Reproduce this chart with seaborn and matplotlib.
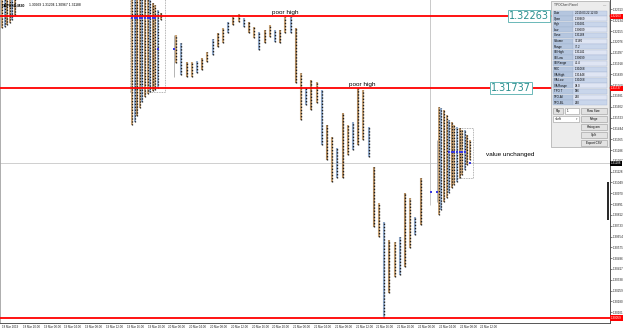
import numpy as np
import pandas as pd
import matplotlib
matplotlib.use("Agg")
import matplotlib.pyplot as plt
import seaborn as sns
from matplotlib.patches import Rectangle
from matplotlib.transforms import blended_transform_factory

sns.set_style("white")
plt.rcParams['font.family'] = ['Liberation Sans', 'DejaVu Sans']

# ---------------- data (time in hours since 18 Mar 16:00, prices) ----------------
# previous-day profile (cut at left)
prev_t = [0.0, 0.5, 1.0, 1.5, 2.0, 2.5]
prev_hi = [1.3240, 1.3240, 1.3240, 1.3240, 1.3240, 1.3240]
prev_lo = [1.32177, 1.32185, 1.32199, 1.32214, 1.32236, 1.32272]

# composite profile (20 Mar)
prof1_t = [25.0, 25.5, 26.0, 26.5, 27.0, 27.5, 28.0, 28.5, 29.0, 29.5, 30.0, 30.5]
prof1_hi = [1.3240, 1.3240, 1.3240, 1.3240, 1.3240, 1.3240, 1.3240, 1.3240,
            1.32360, 1.32345, 1.32309, 1.32287]
prof1_lo = [1.31469, 1.31491, 1.31535, 1.31593, 1.31637, 1.31673, 1.31695, 1.31710,
            1.31717, 1.31724, 1.31739, 1.32236]

# hourly TPO columns
bar_t = [33.5 + k for k in range(48)]
bar_hi = [1.32126, 1.32068, 1.31929, 1.31929, 1.31936, 1.31958, 1.32002, 1.32097,
          1.32141, 1.32177, 1.32221, 1.32258, 1.32280, 1.32250, 1.32221, 1.32185,
          1.32148, 1.32163, 1.32199, 1.32163, 1.32163, 1.32258, 1.32258, 1.32177,
          1.31849, 1.31739, 1.31798, 1.31783, 1.31724, 1.31469, 1.31381, 1.31301,
          1.31556, 1.31469, 1.31491, 1.31739, 1.31724, 1.31454, 1.31162, 1.30899,
          1.30760, 1.30629, 1.30614, 1.30650, 1.30972, 1.30935, 1.30797, 1.31082]
bar_lo = [1.31922, 1.31834, 1.31819, 1.31819, 1.31849, 1.31871, 1.31929, 1.31980,
          1.32039, 1.32068, 1.32141, 1.32199, 1.32221, 1.32185, 1.32141, 1.32104,
          1.32017, 1.32068, 1.32112, 1.32075, 1.32068, 1.32141, 1.32141, 1.31776,
          1.31505, 1.31615, 1.31578, 1.31629, 1.31323, 1.31213, 1.31052, 1.31082,
          1.31082, 1.31250, 1.31286, 1.31323, 1.31359, 1.31235, 1.30724, 1.30650,
          1.30059, 1.30241, 1.30358, 1.30373, 1.30431, 1.30570, 1.30665, 1.30738]

# current-day profile (22 Mar)
prof2_t = [84.0 + 0.5 * i for i in range(13)]
prof2_hi = [1.31600, 1.31593, 1.31578, 1.31542, 1.31505, 1.31491, 1.31469, 1.31454,
            1.31447, 1.31432, 1.31432, 1.31396, 1.31359]
prof2_lo = [1.30811, 1.30848, 1.30906, 1.30935, 1.30972, 1.31008, 1.31030, 1.31052,
            1.31082, 1.31103, 1.31140, 1.31177, 1.31213]

# single thin (gray) prints
thin_t = [33.1, 83.65]
thin_hi = [1.32126, 1.31359]
thin_lo = [1.31819, 1.30906]

# open markers (blue)
open_t = [25.0, 25.5, 26.0, 26.5, 27.0, 27.5, 28.0, 28.5, 29.0, 29.5, 30.0, 33.1,
          82.5, 83.65, 86.0, 86.5, 87.0, 87.5, 88.0, 88.5, 89.0, 90.0]
open_p = [1.32254, 1.32254, 1.32254, 1.32254, 1.32254, 1.32254, 1.32254, 1.32254,
          1.32254, 1.32254, 1.32024, 1.32024, 1.30979, 1.30979, 1.31272, 1.31272,
          1.31272, 1.31272, 1.31272, 1.31272, 1.31272, 1.31191]

levels = [1.32263, 1.31737]
level_labels = ["1.32263", "1.31737"]
low_level = 1.30059
close_price = 1.31188

va1 = (24.6, 31.35, 1.31710, 1.3245)
va2 = (85.6, 90.6, 1.31082, 1.31447)

annot_text = ["poor high", "poor high", "value unchanged"]
annot_t = [54.4, 69.2, 97.7]
annot_p = [1.32294, 1.31768, 1.31250]

xtick_labels = ["18 Mar 2019", "18 Mar 20:00", "19 Mar 00:00", "19 Mar 04:00", "19 Mar 08:00",
                "19 Mar 12:00", "19 Mar 16:00", "19 Mar 20:00", "20 Mar 00:00", "20 Mar 04:00",
                "20 Mar 08:00", "20 Mar 12:00", "20 Mar 16:00", "20 Mar 20:00", "21 Mar 00:00",
                "21 Mar 04:00", "21 Mar 08:00", "21 Mar 12:00", "21 Mar 16:00", "21 Mar 20:00",
                "22 Mar 00:00", "22 Mar 04:00", "22 Mar 08:00", "22 Mar 12:00"]

panel_keys = ["Date", "Open", "High", "Low", "Close", "Volume", "Range", "IB High", "IB Low",
              "IB Range", "POC", "VA High", "VA Low", "VA Range", "TPO T", "TPO-Al", "TPO-BL"]
panel_vals = ["2019.03.22 12:00", "1.30969", "1.31681", "1.30609", "1.31188", "72160", "77.2",
              "1.31141", "1.30699", "45.4", "1.31068", "1.31448", "1.31068", "38.0", "586",
              "240", "240"]

# ---------------- figure ----------------
W, H = 625, 331
fig = plt.figure(figsize=(W / 100, H / 100), dpi=100)
fig.patch.set_facecolor("white")
ax = fig.add_axes([0, 8 / H, 610 / W, 323 / H])
ax.set_facecolor("white")

ax.set_xlim(-0.385, 116.92)
ax.set_ylim(1.30022, 1.32382)

# reference lines
ax.axhline(close_price, color="#c8c8c8", lw=0.6, zorder=1)
ax.vlines([82.3], 1.30884, 1.3240, color="#c0c0c0", lw=0.6, zorder=1)

palette = ["#c9a478", "#93abcb", "#b58f64"]


def draw_cols(t, lo, hi, lw=1.5):
    cols = [palette[i % len(palette)] for i in range(len(t))]
    ax.vlines(t, lo, hi, colors=cols, linewidth=lw, zorder=3)
    ax.vlines(t, lo, hi, colors="#1c1c1c", linewidth=lw * 0.65,
              linestyles=(0, (1, 1.3)), zorder=4)


draw_cols(prev_t, prev_lo, prev_hi, lw=1.4)
draw_cols(prof1_t, prof1_lo, prof1_hi, lw=1.4)
draw_cols(bar_t, bar_lo, bar_hi, lw=1.5)
draw_cols(prof2_t, prof2_lo, prof2_hi, lw=1.4)
ax.vlines(thin_t, thin_lo, thin_hi, colors="#a8a8a8", linewidth=0.6, zorder=3)

opens = pd.DataFrame({"t": open_t, "p": open_p})
sns.scatterplot(data=opens, x="t", y="p", ax=ax, color="#3a3ae0", marker="s", s=2.5,
                linewidth=0, zorder=5)

# value-area boxes
for (x0, x1, y0, y1) in [va1, va2]:
    ax.add_patch(Rectangle((x0, y0), x1 - x0, y1 - y0, fill=False, edgecolor="#9a9a9a",
                           lw=0.6, linestyle=(0, (1, 1)), zorder=2))

# red levels
for lv in levels + [low_level]:
    ax.axhline(lv, color="#ff0000", lw=1.3, zorder=6)

# level tags
tag_t = [101.4, 97.9]
for lv, lab, tt in zip(levels, level_labels, tag_t):
    ax.text(tt, lv, lab, fontsize=7, color="#2b8f8f", ha="center", va="center", zorder=7,
            family="DejaVu Sans",
            bbox=dict(boxstyle="square,pad=0.12", fc="white", ec="#6ab8b8", lw=0.7))

for s, tt, pp in zip(annot_text, annot_t, annot_p):
    ax.text(tt, pp, s, fontsize=4.6, color="black", ha="center", va="center", zorder=7)

# axes styling
ax.spines["top"].set_visible(False)
ax.spines["left"].set_color("#a0a0a0")
ax.spines["left"].set_linewidth(0.6)
ax.spines["right"].set_color("#555555")
ax.spines["bottom"].set_color("#555555")
ax.spines["right"].set_linewidth(0.7)
ax.spines["bottom"].set_linewidth(0.7)

ax.yaxis.tick_right()
ax.set_yticks(np.round(np.arange(1.30101, 1.3238, 0.00079), 5))
ax.yaxis.set_major_formatter(matplotlib.ticker.FormatStrFormatter("%.5f"))
ax.tick_params(axis="y", labelsize=2.2, length=1.2, width=0.4, pad=0.8, colors="#222222")
ax.set_xticks([4 * k for k in range(len(xtick_labels))])
ax.set_xticklabels(xtick_labels, ha="left")
ax.tick_params(axis="x", labelsize=2.05, length=1.2, width=0.4, pad=0.5, colors="#222222")
ax.set_xlabel("")
ax.set_ylabel("")

# right-axis price tags
bt = blended_transform_factory(ax.transAxes, ax.transData)
for lv, lab in zip(levels + [low_level], level_labels + ["1.30059"]):
    ax.text(1.002, lv, lab, transform=bt, fontsize=2.2, color="white", ha="left", va="center",
            zorder=8, clip_on=False,
            bbox=dict(boxstyle="square,pad=0.25", fc="#ff0000", ec="none"))
ax.text(1.002, close_price, "1.31188", transform=bt, fontsize=2.2, color="white", ha="left",
        va="center", zorder=8, clip_on=False,
        bbox=dict(boxstyle="square,pad=0.25", fc="black", ec="none"))
ax.vlines([116.6], 1.30775, 1.31052, color="black", lw=1.2, zorder=6)


# ---------------- figure-level overlay (title + panel) ----------------
def frect(x0, y0, x1, y1, fc, ec="none", lw=0.4, z=10):
    fig.add_artist(Rectangle((x0 / W, 1 - y1 / H), (x1 - x0) / W, (y1 - y0) / H,
                             transform=fig.transFigure, facecolor=fc, edgecolor=ec,
                             linewidth=lw, zorder=z))


def ftext(x, y, s, size=2.5, ha="left", color="black", z=11, **kw):
    fig.text(x / W, 1 - y / H, s, fontsize=size, ha=ha, va="center", color=color,
             zorder=z, **kw)


ftext(2, 5, "GBPUSD,M30", size=2.6, weight="bold")
ftext(29, 5, "1.30969 1.31204 1.30967 1.31188", size=2.4)

frect(551, 1, 609, 147, "#ececec", ec="#a8a8a8", lw=0.5)
ftext(553.5, 5.5, "TPOChart Panel", size=2.3, color="#333333")
ftext(604.5, 5.0, "\u2014", size=2.3, ha="center", color="#777777")
row_h = 5.6
for i, (k, v) in enumerate(zip(panel_keys, panel_vals)):
    y0 = 10.5 + i * row_h
    frect(552.5, y0, 572.5, y0 + row_h - 0.6, "#b5c6df", ec="#9fb3d0", lw=0.3)
    vfc = "#dfe5f3" if i % 2 else "#c9d6eb"
    frect(573.0, y0, 606.5, y0 + row_h - 0.6, vfc, ec="#a8b8d4", lw=0.3)
    ftext(553.5, y0 + row_h / 2 - 0.3, k, size=2.1)
    ftext(575.0, y0 + row_h / 2 - 0.3, v, size=2.1)


def button(x0, y0, x1, y1, s, fc="#e2e2e2", ha="center"):
    frect(x0, y0, x1, y1, fc, ec="#9a9a9a", lw=0.4)
    if ha == "center":
        ftext((x0 + x1) / 2, (y0 + y1) / 2, s, size=2.2, ha="center")
    else:
        ftext(x0 + 1.5, (y0 + y1) / 2, s, size=2.2)


button(553, 108, 563, 114, "R/p")
button(565, 108, 579, 114, "1", fc="white", ha="left")
button(580.5, 108, 607, 114, "Row Size")
button(553, 116, 579, 122, "<Left", fc="white", ha="left")
ftext(575.5, 119, "\u25be", size=2.1, color="#666666", family="DejaVu Sans")
button(580.5, 116, 607, 122, "Merge")
button(580.5, 124, 607, 130, "Histogram")
button(580.5, 132, 607, 138, "Split")
button(580.5, 140, 607, 146, "Export CSV")

fig.savefig("out.png", dpi=100)
